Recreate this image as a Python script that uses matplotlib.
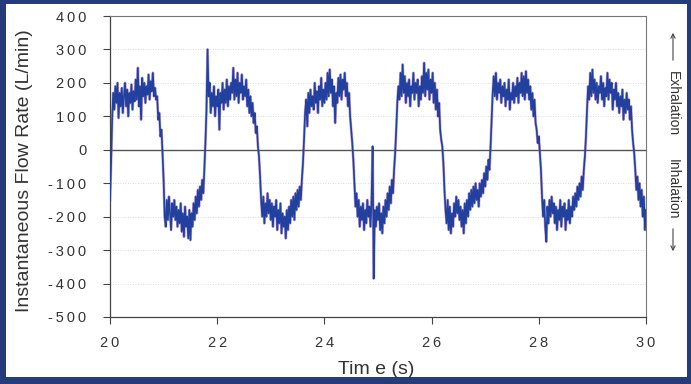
import numpy as np
import matplotlib
matplotlib.use("Agg")
import matplotlib.pyplot as plt
from matplotlib.patches import Rectangle, FancyArrowPatch

# ---- data (flow rate in L/min, sampled every 0.02 s) ----
flow_20_22 = [
    -150, -40, 90, 170,
    120, 190, 140, 200, 95, 170, 130, 185, 110, 160, 200, 130, 180, 100, 170, 140,
    195, 120, 175, 145, 210, 150, 245, 130, 190, 90, 215, 160, 200, 140, 190, 165,
    225, 150, 205, 175, 230, 160, 185, 150,
    160, 90, 110, 40, 60, -10, -90, -200,
    -230, -150, -210, -140, -190, -240, -160, -200, -150, -210, -170, -230, -180, -220,
    -160, -245, -190, -260, -170, -230, -200, -265, -180, -270, -190, -230, -160, -210,
    -140, -190, -120, -170, -110, -150, -90, -130,
    -60, 20, 120, 300, 160, 200, 110, 170, 130, 190, 100, 160,
]
flow_22_24 = [
    130, 180, 60, 170, 140, 200, 120, 180, 140, 210, 130, 190, 150, 200, 170, 245,
    150, 210, 160, 230, 140, 200, 170, 225, 150, 190, 160, 210, 130, 180, 110, 160,
    100, 140, 80,
    110, 50, 70, 10, -20, -80, -150, -200,
    -140, -220, -160, -200, -130, -190, -150, -210, -160, -230, -170, -200, -150, -240,
    -180, -220, -160, -250, -190, -230, -200, -265, -180, -240, -170, -220, -150, -200,
    -140, -210, -130, -180, -120, -170, -110, -150,
    -90, -40, 30, 110, 150,
    70, 170, 110, 180, 130, 160, 120, 200, 140, 175, 110, 190, 150, 215, 130, 180,
]
flow_24_26 = [
    140, 200, 150, 230, 160, 240, 170, 210, 130, 190, 80, 170, 140, 215, 160, 225,
    150, 210, 180, 230, 160, 200, 130, 170,
    100, 60, 20, -30, -100, -170, -130,
    -200, -150, -230, -170, -210, -160, -240, -180, -220, -150, -200, -170, -230, -150,
    10, -385, -180, -230, -170, -210, -160, -240, -190, -250, -170, -220, -150, -200,
    -130, -180, -110, -160, -90, -130,
    -60, -10, 60, 140, 190,
    150, 230, 160, 255, 170, 220, 140, 200, 160, 210, 130, 190, 170, 230, 150, 200,
    170, 210, 130, 190, 150, 220, 170, 260, 160, 230, 180, 240, 150, 210,
]
flow_26_28 = [
    170, 230, 140, 200, 120, 180, 100, 140, 60, 30, 10, -40, -120, -180,
    -220, -150, -240, -170, -250, -190, -230, -160, -200, -140, -190, -150, -210, -170,
    -230, -180, -250, -160, -220, -150, -200, -130, -180, -120, -170, -110, -160, -100,
    -150, -120, -170, -100, -140, -90, -130, -70,
    -110, -50, -90, -30, -60, 10, 90, 170, 220,
    160, 230, 150, 200, 170, 210, 140, 190, 160, 200, 130, 180, 150, 210, 120, 170,
    150, 200, 140, 190, 160, 215, 140, 200, 170, 230, 160, 220, 150, 235, 170, 210,
    150, 190, 120, 170, 100, 150, 80, 60, 20,
]
flow_28_30 = [
    40, -10, -60, -140, -200,
    -150, -230, -275, -170, -220, -150, -200, -140, -190, -160, -220, -170, -240, -180,
    -210, -150, -230, -170, -200, -160, -240, -180, -210, -150, -220, -170, -200, -140,
    -180, -130, -170, -110, -150, -100, -140, -80, -120, -60,
    -20, 40, 120, 190, 150,
    230, 160, 240, 170, 210, 150, 200, 140, 190, 170, 220, 150, 200, 130, 185, 160,
    230, 150, 210, 170, 200, 120, 180, 150, 200, 130, 170, 110, 160, 130, 180, 90,
    150, 110, 170, 120, 150, 90, 130,
    60, 20, -10, -60, -120, -80, -150, -100, -170, -120, -200, -140, -240, -180,
]

flow = np.array(flow_20_22 + flow_22_24 + flow_24_26 + flow_26_28 + flow_28_30, dtype=float)
time = np.linspace(20, 30, len(flow))

x_ticks = [20, 22, 24, 26, 28, 30]
y_ticks = [-500, -400, -300, -200, -100, 0, 100, 200, 300, 400]


def spaced(v):
    return "\u2009".join(str(v))


# ---- figure ----
W, H = 691, 384
fig = plt.figure(figsize=(W / 100, H / 100), dpi=100)
fig.patch.set_facecolor("#263c7a")
fig.add_artist(Rectangle((6 / W, 7 / H), 681 / W, 373 / H, transform=fig.transFigure,
                         facecolor="white", edgecolor="none", zorder=-5))

plt.rcParams["font.family"] = ["Liberation Sans", "DejaVu Sans"]

ax = fig.add_axes([110 / W, 1 - 317 / H, 536 / W, 301 / H])
ax.set_facecolor("white")

for yv in y_ticks:
    if yv != 0:
        ax.axhline(yv, color="#cfcfcf", lw=0.6, ls=(0, (1, 2)), zorder=0)
ax.axhline(0, color="#555555", lw=1.0, zorder=1)

ax.plot(time, flow, color="#8a55b8", lw=2.0, alpha=0.5, zorder=2)
ax.plot(time, flow, color="#22409e", lw=1.2, zorder=3)

ax.set_xlim(20, 30)
ax.set_ylim(-500, 400)
ax.set_xticks(x_ticks)
ax.set_yticks(y_ticks)
ax.set_xticklabels([spaced(v) for v in x_ticks])
ax.set_yticklabels([spaced(v) for v in y_ticks])
ax.tick_params(axis="both", direction="out", length=5, width=0.8, color="#444444",
               labelcolor="#333333", labelsize=10.5)
ax.tick_params(axis="y", pad=12)
ax.tick_params(axis="x", pad=9)
for s in ["left", "bottom"]:
    ax.spines[s].set_color("#444444")
    ax.spines[s].set_linewidth(0.9)
for s in ["top", "right"]:
    ax.spines[s].set_color("#777777")
    ax.spines[s].set_linewidth(0.8)

fig.text(25 / W, 1 - 171 / H, "Instantaneous Flow Rate (L/min)", rotation=90,
         ha="center", va="center", fontsize=14, color="#333333")
fig.text(376 / W, 1 - 370 / H, "Tim e (s)", ha="center", va="center",
         fontsize=14, color="#333333")

# right-hand annotation
xr = 673
fig.text(xr / W, 1 - 104 / H, "Exhalation", rotation=-90, ha="center", va="center",
         fontsize=10, color="#333333")
fig.text(xr / W, 1 - 189 / H, "Inhalation", rotation=-90, ha="center", va="center",
         fontsize=10, color="#333333")
fig.add_artist(FancyArrowPatch(
    (xr / W, 1 - 63 / H), (xr / W, 1 - 30 / H), transform=fig.transFigure,
    arrowstyle="->,head_length=3,head_width=1.5", lw=0.8, color="#444444"))
fig.add_artist(FancyArrowPatch(
    (xr / W, 1 - 226 / H), (xr / W, 1 - 254 / H), transform=fig.transFigure,
    arrowstyle="->,head_length=3,head_width=1.5", lw=0.8, color="#444444"))

fig.savefig("out.png", dpi=100, facecolor=fig.get_facecolor())
